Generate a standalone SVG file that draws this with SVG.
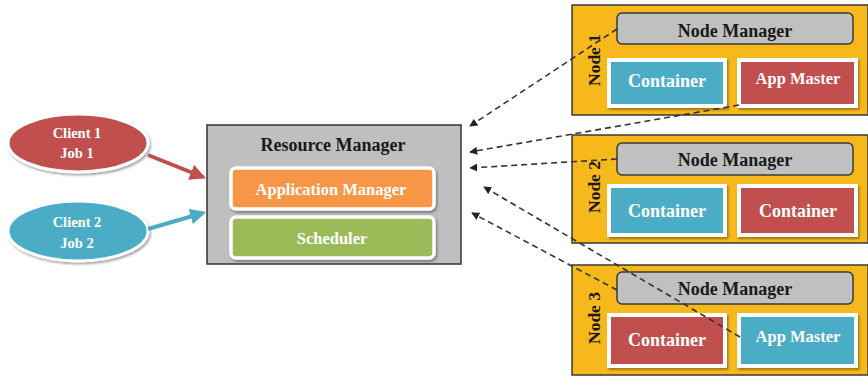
<svg xmlns="http://www.w3.org/2000/svg" width="868" height="377" viewBox="0 0 868 377">
<style>
.t{font-family:"Liberation Serif","Times New Roman",serif;font-weight:bold;text-anchor:middle;dominant-baseline:central}
.w{fill:#ffffff}
.k{fill:#1a1a1a}
.node{fill:#F7B81C;stroke:#3a3a3a;stroke-width:1.5}
.nm{fill:#C0C0C0;stroke:#3a3a3a;stroke-width:1.5}
.blue{fill:#4BACC6;stroke:#ffffff;stroke-width:4}
.red{fill:#C0504D;stroke:#ffffff;stroke-width:4}
.dash{fill:none;stroke:#333;stroke-width:1.6;stroke-dasharray:6 4}
</style>
<defs>
<filter id="sh" x="-10%" y="-10%" width="130%" height="140%">
<feDropShadow dx="1.5" dy="2" stdDeviation="1.2" flood-color="#000" flood-opacity="0.35"/>
</filter>
<marker id="ah" viewBox="0 0 10 10" refX="9" refY="5" markerWidth="8" markerHeight="8" markerUnits="userSpaceOnUse" orient="auto">
<path d="M0,0 L10,5 L0,10 z" fill="#222"/>
</marker>
<marker id="ar" viewBox="0 0 10 10" refX="8" refY="5" markerWidth="4" markerHeight="4" orient="auto">
<path d="M0,0 L10,5 L0,10 z" fill="#C0504D"/>
</marker>
<marker id="ab" viewBox="0 0 10 10" refX="8" refY="5" markerWidth="4" markerHeight="4" orient="auto">
<path d="M0,0 L10,5 L0,10 z" fill="#4BACC6"/>
</marker>
</defs>

<g id="client1">
<ellipse cx="78" cy="143" rx="70" ry="29" fill="#C0504D" stroke="#ffffff" stroke-width="3" filter="url(#sh)"/>
<text class="t w" x="77" y="133" font-size="14.5">Client 1</text>
<text class="t w" x="77" y="153" font-size="14.5">Job 1</text>
</g>
<g id="client2">
<ellipse cx="78" cy="231" rx="70" ry="30" fill="#4BACC6" stroke="#ffffff" stroke-width="3" filter="url(#sh)"/>
<text class="t w" x="77" y="222" font-size="14.5">Client 2</text>
<text class="t w" x="77" y="243" font-size="14.5">Job 2</text>
</g>

<g id="resource-manager">
<rect x="207" y="125" width="254" height="139" fill="#BFBFBF" stroke="#333" stroke-width="1.5"/>
<text class="t k" x="333" y="145" font-size="18">Resource Manager</text>
<g id="application-manager">
<rect x="231" y="168" width="203" height="41" rx="5" fill="#F79646" stroke="#ffffff" stroke-width="3.5" filter="url(#sh)"/>
<text class="t w" x="331" y="189" font-size="16.5">Application Manager</text>
</g>
<g id="scheduler">
<rect x="231" y="217" width="203" height="41" rx="5" fill="#9BBB59" stroke="#ffffff" stroke-width="3.5" filter="url(#sh)"/>
<text class="t w" x="332" y="238" font-size="16.5">Scheduler</text>
</g>
</g>

<g id="node1">
<rect class="node" x="572" y="5" width="296" height="110"/>
<text class="t k" font-size="17.5" transform="translate(594,60) rotate(-90)">Node 1</text>
<rect class="nm" x="617" y="13" width="236" height="31" rx="5"/>
<text class="t k" x="735" y="31" font-size="18">Node Manager</text>
<rect class="blue" x="609" y="60" width="116" height="46" filter="url(#sh)"/>
<text class="t w" x="667" y="81" font-size="18">Container</text>
<rect class="red" x="739" y="60" width="117" height="46" filter="url(#sh)"/>
<text class="t w" x="798" y="78" font-size="16.5">App Master</text>
</g>

<g id="node2">
<rect class="node" x="572" y="135" width="296" height="108"/>
<text class="t k" font-size="17.5" transform="translate(594,187) rotate(-90)">Node 2</text>
<rect class="nm" x="617" y="143" width="236" height="32" rx="5"/>
<text class="t k" x="735" y="160" font-size="18">Node Manager</text>
<rect class="blue" x="609" y="186" width="116" height="49" filter="url(#sh)"/>
<text class="t w" x="667" y="211" font-size="18">Container</text>
<rect class="red" x="739" y="186" width="117" height="49" filter="url(#sh)"/>
<text class="t w" x="798" y="211" font-size="18">Container</text>
</g>

<g id="node3">
<rect class="node" x="572" y="265" width="296" height="110"/>
<text class="t k" font-size="17.5" transform="translate(594,318) rotate(-90)">Node 3</text>
<rect class="nm" x="617" y="272" width="236" height="32" rx="5"/>
<text class="t k" x="735" y="289" font-size="18">Node Manager</text>
<rect class="red" x="609" y="315" width="116" height="51" filter="url(#sh)"/>
<text class="t w" x="667" y="340" font-size="18">Container</text>
<rect class="blue" x="739" y="315" width="117" height="51" filter="url(#sh)"/>
<text class="t w" x="798" y="336" font-size="16.5">App Master</text>
</g>

<g id="connectors">
<line x1="148" y1="155" x2="203" y2="177" stroke="#C0504D" stroke-width="4" marker-end="url(#ar)"/>
<line x1="148" y1="229" x2="203" y2="213" stroke="#4BACC6" stroke-width="4" marker-end="url(#ab)"/>
<line class="dash" x1="617" y1="29" x2="470" y2="126" marker-end="url(#ah)"/>
<line class="dash" x1="739" y1="105" x2="470" y2="152" marker-end="url(#ah)"/>
<line class="dash" x1="617" y1="159" x2="470" y2="168" marker-end="url(#ah)"/>
<line class="dash" x1="740" y1="337" x2="484" y2="187" marker-end="url(#ah)"/>
<line class="dash" x1="617" y1="290" x2="472" y2="213" marker-end="url(#ah)"/>
</g>
</svg>
